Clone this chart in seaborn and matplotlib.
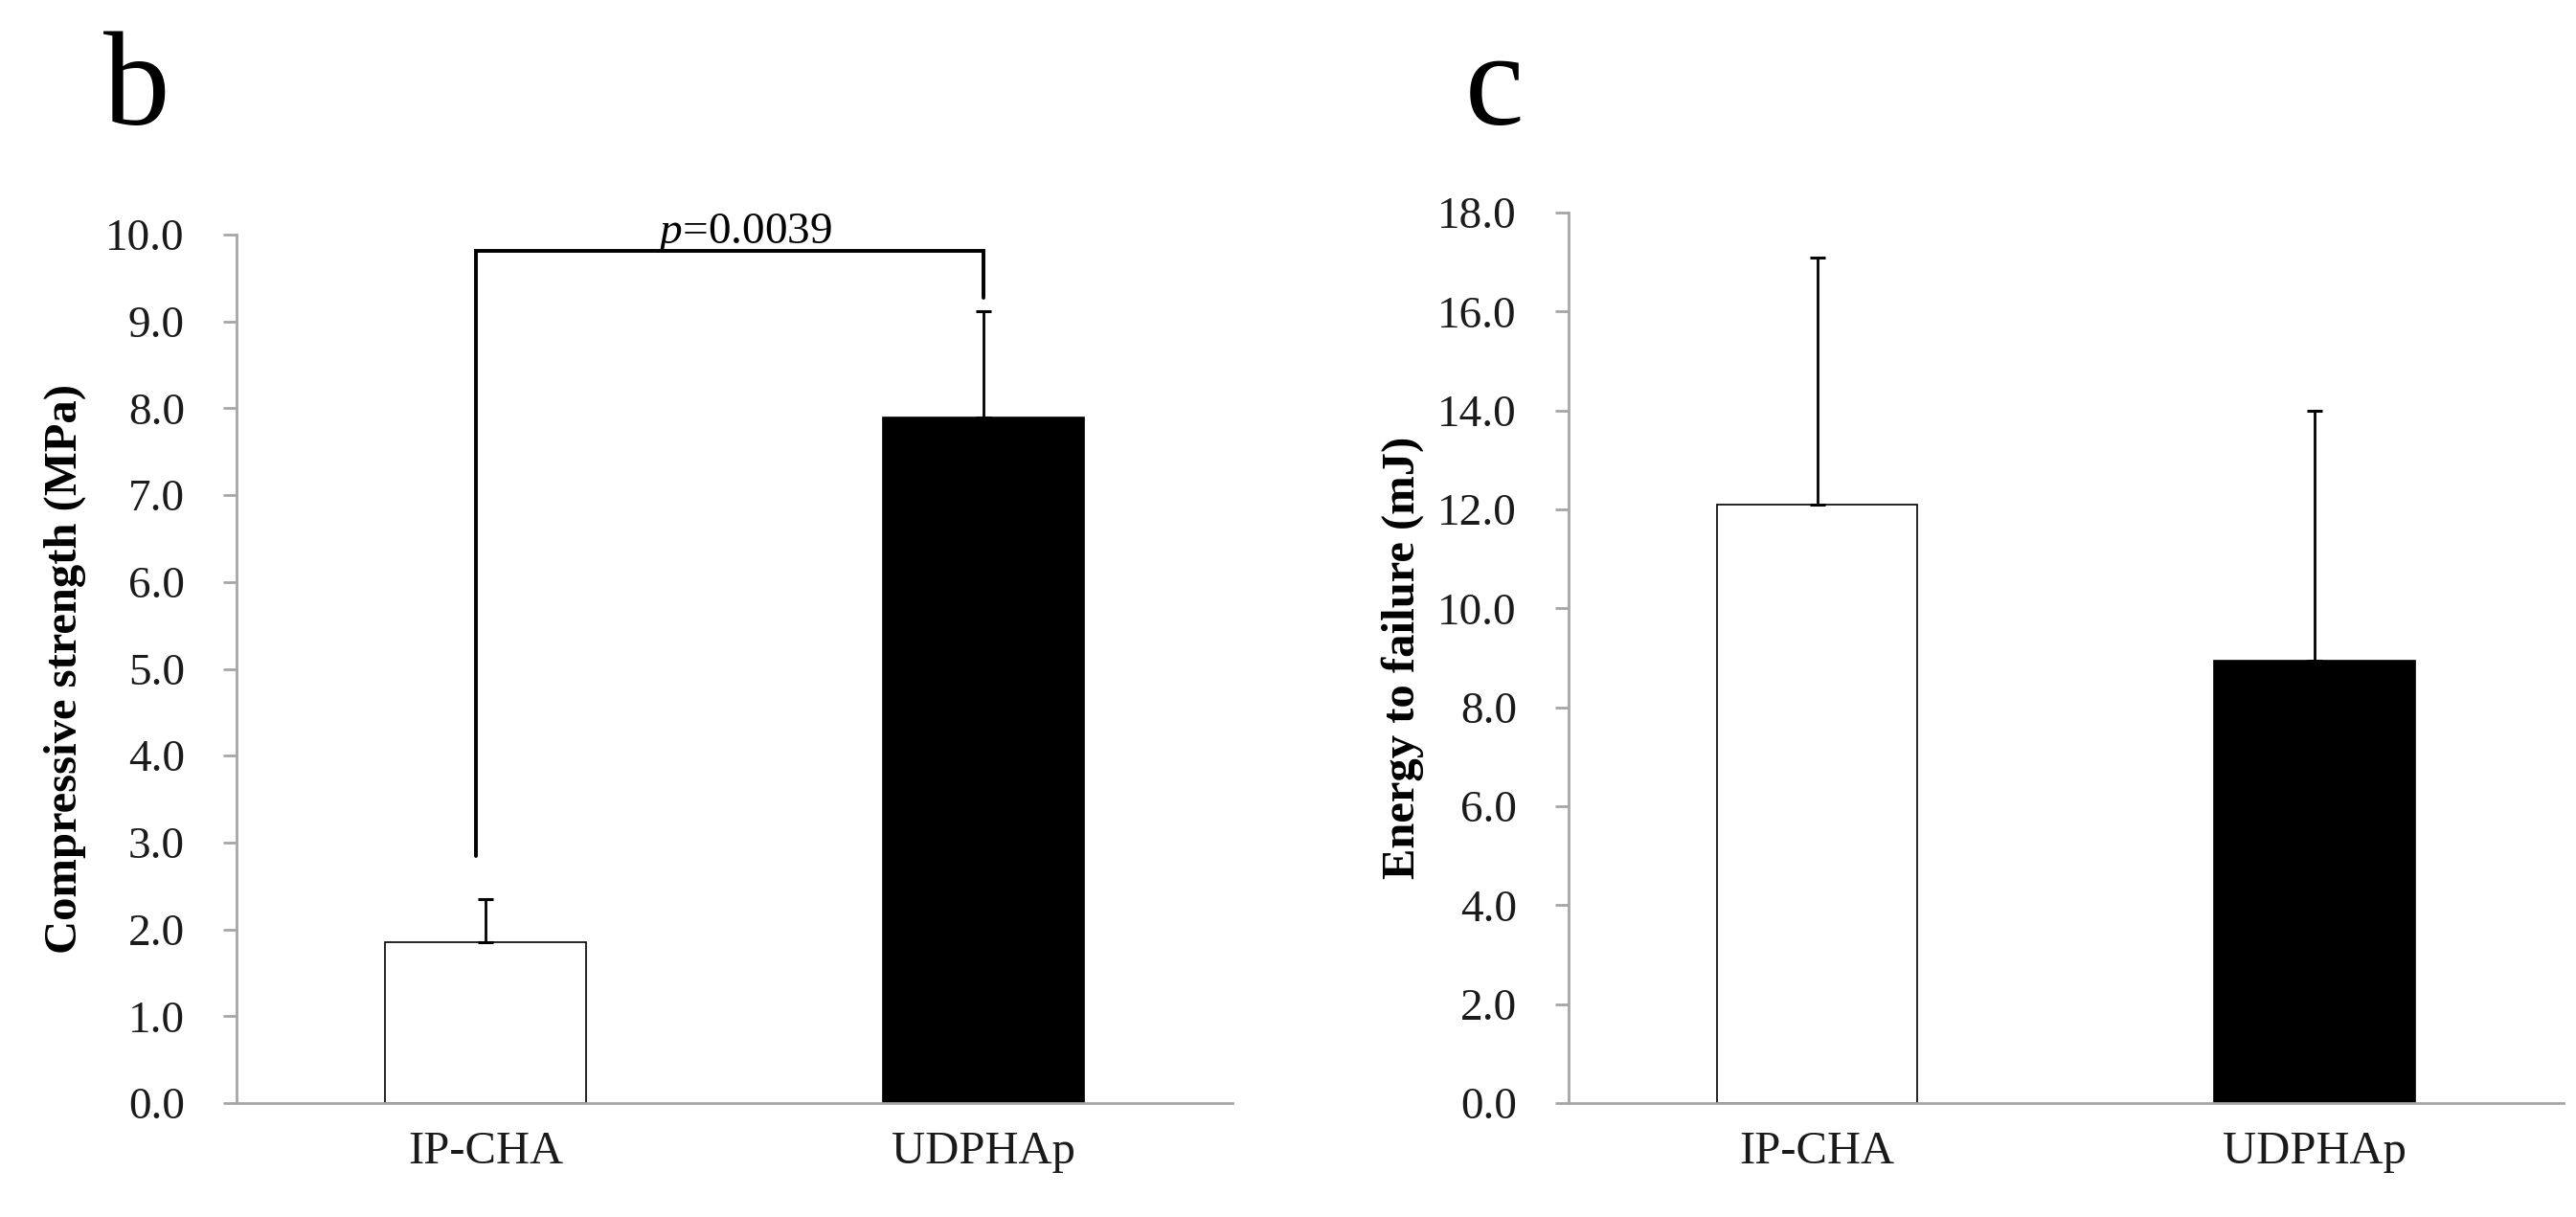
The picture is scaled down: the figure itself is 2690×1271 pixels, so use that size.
import numpy as np
import pandas as pd
import matplotlib
matplotlib.use("Agg")
import matplotlib.pyplot as plt
import seaborn as sns

# datos
grupos = ["IP-CHA", "UDPHAp"]
resistencia = [1.85, 7.90]       # MPa
resistencia_de = [0.50, 1.22]
energia = [12.10, 8.95]          # mJ
energia_de = [5.00, 5.05]
texto_p = "$\\it{p}$=0.0039"

sns.set_theme(style="white")
plt.rcParams["font.family"] = ["Liberation Serif", "DejaVu Serif"]
plt.rcParams["mathtext.fontset"] = "custom"
plt.rcParams["mathtext.it"] = "Liberation Serif:italic"
plt.rcParams["mathtext.rm"] = "Liberation Serif"
plt.rcParams["text.color"] = "black"
plt.rcParams["axes.labelcolor"] = "black"

gris = "#a6a6a6"
colores = ["white", "black"]

fig = plt.figure(figsize=(26.9, 12.71), dpi=100)
ax1 = fig.add_axes([0.0918, 0.0936, 0.3866, 0.7136])
ax2 = fig.add_axes([0.6089, 0.0936, 0.3862, 0.7317])


def panel(ax, valores, errores, ymax, paso, etiqueta, xlab):
    df = pd.DataFrame({"grupo": grupos, "valor": valores})
    sns.barplot(data=df, x="grupo", y="valor", hue="grupo", palette=colores,
                edgecolor="black", linewidth=1.2, width=0.403, legend=False, ax=ax)
    ax.errorbar(range(len(grupos)), valores, yerr=[[0] * len(errores), errores],
                fmt="none", ecolor="black", elinewidth=2.0, capsize=6, capthick=2.2)
    ax.set_xlim(-0.5, 1.5)
    ax.set_ylim(0, ymax)
    marcas = np.arange(0, ymax + 0.01, paso)
    ax.set_yticks(marcas)
    ax.set_yticklabels([f"{v:.1f}" for v in marcas])
    ax.set_xlabel("")
    ax.set_ylabel(etiqueta, fontsize=35, fontweight="bold")
    ax.yaxis.set_label_coords(xlab, 0.5)
    for s in ["top", "right"]:
        ax.spines[s].set_visible(False)
    for s in ["left", "bottom"]:
        ax.spines[s].set_color(gris)
        ax.spines[s].set_linewidth(2)
    ax.set_xticks([-0.5, 0.5, 1.5], minor=True)
    ax.tick_params(axis="x", which="major", length=0, labelsize=35, pad=21,
                   labelcolor="#1a1a1a")
    ax.tick_params(axis="x", which="minor", length=10, width=2, color=gris, direction="out")
    ax.tick_params(axis="y", length=10, width=2, color=gris, direction="out",
                   labelsize=34, left=True, pad=29, labelcolor="#1a1a1a")


panel(ax1, resistencia, resistencia_de, 10, 1.0, "Compressive strength (MPa)", -0.151)
panel(ax2, energia, energia_de, 18, 2.0, "Energy to failure (mJ)", -0.145)

# corchete de significancia
ax1.plot([-0.02, -0.02, 1.0, 1.0], [2.85, 9.81, 9.81, 9.27], color="black",
         lw=2.8, clip_on=False, solid_joinstyle="miter")
ax1.text(0.52, 9.9, texto_p, ha="center", va="baseline", fontsize=34)

fig.text(0.040, 0.8977, "b", fontsize=100, ha="left", va="baseline")
fig.text(0.5685, 0.8977, "c", fontsize=100, ha="left", va="baseline")

fig.savefig("out.png", dpi=100, facecolor="white")
